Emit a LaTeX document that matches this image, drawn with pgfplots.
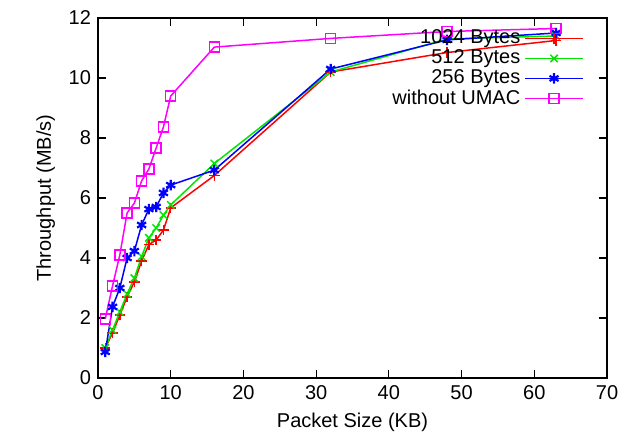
\documentclass[border=0pt]{standalone}
\usepackage{fontspec}
\setmainfont{Liberation Sans}
\usepackage{pgfplots}
\pgfplotsset{compat=1.18}

\definecolor{gpred}{RGB}{255,0,0}
\definecolor{gpgreen}{RGB}{0,230,0}
\definecolor{gpblue}{RGB}{0,0,255}
\definecolor{gpmagenta}{RGB}{255,0,255}

\begin{document}
\begin{tikzpicture}
\begin{axis}[
  name=ax,
  scale only axis,
  width=254.5pt, height=180pt,
  xmin=0, xmax=70, ymin=0, ymax=12,
  xtick={0,10,...,70},
  ytick={0,2,...,12},
  xlabel={Packet Size (KB)},
  ylabel={Throughput (MB/s)},
  /pgf/number format/assume math mode=true,
  tick align=inside,
  major tick length=4pt,
  axis line style={line width=0.8pt},
  every tick/.style={black, line width=0.6pt},
  legend style={draw=none, fill=none, at={(0.967,0.99)}, anchor=north east,
                row sep=-2.5pt, font=\fontsize{10}{12}\selectfont},
  legend cell align=right,
  legend plot pos=right,
  legend image code/.code={
    \draw[mark repeat=2,mark phase=2] plot coordinates {(-3pt,0pt) (11.5pt,0pt) (26pt,0pt)};
  },
  every axis plot/.append style={line width=0.75pt},
]
\addplot[gpred, mark=+, mark size=2.6pt] coordinates {
  (1,1.0) (2,1.5) (3,2.1) (4,2.7) (5,3.2) (6,3.9) (7,4.45) (8,4.6) (9,4.93) (10,5.67)
  (16,6.75) (32,10.2) (48,10.85) (63,11.25)
};
\addplot[gpgreen, mark=x, mark size=2.6pt] coordinates {
  (1,1.0) (2,1.6) (3,2.2) (4,2.8) (5,3.33) (6,4.05) (7,4.67) (8,5.0) (9,5.43) (10,5.77)
  (16,7.15) (32,10.2) (48,11.3) (63,11.4)
};
\addplot[gpblue, mark=asterisk, mark size=2.6pt, mark options={line width=1.1pt}] coordinates {
  (1,0.87) (2,2.37) (3,3.0) (4,4.0) (5,4.23) (6,5.1) (7,5.63) (8,5.7) (9,6.17) (10,6.43)
  (16,6.93) (32,10.3) (48,11.27) (63,11.5)
};
\addplot[gpmagenta, mark=square, mark size=2.5pt] coordinates {
  (1,1.97) (2,3.07) (3,4.1) (4,5.5) (5,5.83) (6,6.57) (7,6.97) (8,7.67) (9,8.37) (10,9.4)
  (16,11.03) (32,11.32) (48,11.55) (63,11.65)
};
\legend{1024 Bytes, 512 Bytes, 256 Bytes, without UMAC}
\end{axis}
\path[use as bounding box] (ax.south west) ++(-49pt,-33.5pt) rectangle ++(318.5pt,222.5pt);
\end{tikzpicture}
\end{document}
